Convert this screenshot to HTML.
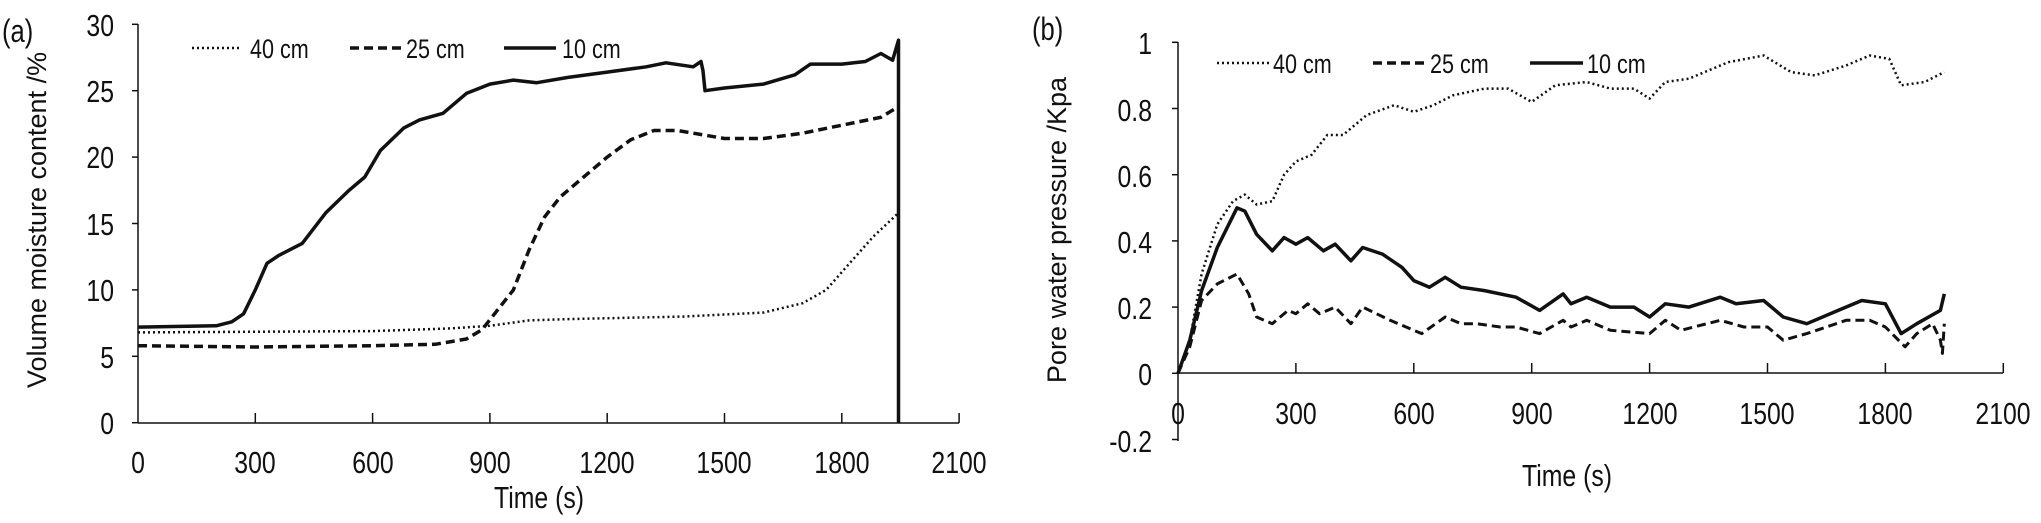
<!DOCTYPE html>
<html><head><meta charset="utf-8"><style>
html,body{margin:0;padding:0;background:#fff;}
svg{display:block;}
text{font-family:"Liberation Sans",sans-serif;fill:#111;}
</style></head><body>
<svg id="s" width="2041" height="523" viewBox="0 0 2041 523" xmlns="http://www.w3.org/2000/svg">
<g id="g"></g>
<g id="nt">
<text x="2" y="42" font-size="32">(a)</text>
<g font-size="31" text-anchor="end">
<text x="114" y="434">0</text><text x="114" y="368">5</text><text x="114" y="301">10</text>
<text x="114" y="235">15</text><text x="114" y="168">20</text><text x="114" y="102">25</text><text x="114" y="36">30</text>
</g>
<g font-size="31" text-anchor="middle">
<text x="138" y="473">0</text><text x="255" y="473">300</text><text x="373" y="473">600</text>
<text x="490" y="473">900</text><text x="607" y="473">1200</text><text x="724" y="473">1500</text>
<text x="842" y="473">1800</text><text x="959" y="473">2100</text>
<text x="539" y="508">Time (s)</text>
</g>
<g font-size="27"><text x="250" y="58">40 cm</text><text x="406" y="58">25 cm</text><text x="562" y="58">10 cm</text></g>
<text x="1032" y="40" font-size="32">(b)</text>
<g font-size="31" text-anchor="end">
<text x="1152" y="452">-0.2</text><text x="1152" y="385">0</text><text x="1152" y="319">0.2</text>
<text x="1152" y="253">0.4</text><text x="1152" y="187">0.6</text><text x="1152" y="121">0.8</text><text x="1152" y="54">1</text>
</g>
<g font-size="31" text-anchor="middle">
<text x="1178" y="424">0</text><text x="1296" y="424">300</text><text x="1414" y="424">600</text>
<text x="1532" y="424">900</text><text x="1650" y="424">1200</text><text x="1767" y="424">1500</text>
<text x="1885" y="424">1800</text><text x="2003" y="424">2100</text>
<text x="1567" y="486">Time (s)</text>
</g>
<g font-size="27"><text x="1273" y="73">40 cm</text><text x="1430" y="73">25 cm</text><text x="1587" y="73">10 cm</text></g>
</g>
<text font-size="27" text-anchor="middle" transform="translate(46,220) rotate(-90)">Volume moisture content /%</text>
<text font-size="27" text-anchor="middle" transform="translate(1066,230) rotate(-90)">Pore water pressure /Kpa</text>
</svg>
<script>
var ts=document.querySelectorAll('#nt text');
ts.forEach(function(t){var x=t.getAttribute('x'),y=t.getAttribute('y');t.setAttribute('transform','translate('+x+','+y+') scale(0.8,1) translate('+(-x)+','+(-y)+')');});
var g=document.getElementById('g'),NS="http://www.w3.org/2000/svg";
function el(t,a){var e=document.createElementNS(NS,t);for(var k in a)e.setAttribute(k,a[k]);g.appendChild(e);return e;}
function line(x1,y1,x2,y2,w,d){el('line',{x1:x1,y1:y1,x2:x2,y2:y2,stroke:'#111','stroke-width':w||1.5,'stroke-dasharray':d||'none'});}
var A={x0:138,sx:117.3/300,y0:422.7,sy:66.4/5};
var B={x0:1178,sx:117.9/300,y0:373.3,sy:66.2/0.2};
function path(P,pts,w,d){var s='';pts.forEach(function(p,i){s+=(i?'L':'M')+(P.x0+p[0]*P.sx).toFixed(1)+','+(P.y0-p[1]*P.sy).toFixed(1);});
el('path',{d:s,fill:'none',stroke:'#111','stroke-width':w,'stroke-dasharray':d,'stroke-linejoin':'round'});}
line(138,24,138,423);line(138,423,959,423);
for(var i=0;i<=6;i++)line(132,24.3+i*66.4,138,24.3+i*66.4);
for(var i=1;i<=7;i++)line(138+i*117.3,423,138+i*117.3,413);
line(1178,42,1178,441);line(1178,373,2003,373);
for(var i=0;i<=6;i++)line(1172,42.3+i*66.2,1178,42.3+i*66.2);
for(var i=1;i<=7;i++)line(1178+i*117.9,373,1178+i*117.9,363);
var DOT='2,3',DASH='9,5';
path(A,[[0,7.2],[200,7.3],[240,7.6],[270,8.2],[300,10],[330,12],[360,12.6],[420,13.5],[480,15.8],[540,17.5],[580,18.5],[620,20.5],[680,22.2],[720,22.8],[780,23.3],[840,24.8],[900,25.5],[960,25.8],[1020,25.6],[1100,26],[1200,26.4],[1300,26.8],[1350,27.1],[1420,26.8],[1440,27.2],[1445,26.5],[1450,25],[1500,25.2],[1600,25.5],[1680,26.2],[1720,27],[1800,27],[1860,27.2],[1900,27.8],[1930,27.3],[1945,28.8],[1945,0]],3.5,'none');
path(A,[[0,5.8],[300,5.7],[600,5.8],[760,5.9],[840,6.3],[880,7],[920,8.5],[960,10],[1000,13],[1040,15.5],[1080,17],[1140,18.5],[1200,20],[1260,21.3],[1320,22],[1380,22],[1440,21.7],[1500,21.4],[1600,21.4],[1700,21.8],[1800,22.4],[1900,23],[1945,23.8]],3.5,DASH);
path(A,[[0,6.8],[600,6.9],[800,7.1],[900,7.3],[1000,7.7],[1100,7.8],[1400,8.0],[1600,8.3],[1700,9],[1760,10],[1820,12],[1880,14],[1945,15.8]],2.5,DOT);
path(B,[[0,0],[30,0.1],[60,0.3],[100,0.45],[140,0.52],[170,0.54],[200,0.51],[240,0.52],[270,0.6],[300,0.64],[340,0.66],[380,0.72],[420,0.72],[480,0.78],[550,0.81],[600,0.79],[650,0.81],[700,0.84],[780,0.86],[840,0.86],[900,0.82],[960,0.87],[1040,0.88],[1100,0.86],[1160,0.86],[1200,0.83],[1240,0.88],[1300,0.89],[1400,0.94],[1490,0.96],[1560,0.91],[1620,0.9],[1700,0.93],[1760,0.96],[1810,0.95],[1840,0.87],[1900,0.88],[1950,0.91]],2.5,DOT);
path(B,[[0,0],[30,0.1],[60,0.25],[100,0.38],[150,0.5],[170,0.49],[200,0.42],[240,0.37],[270,0.41],[300,0.39],[330,0.41],[370,0.37],[400,0.39],[440,0.34],[470,0.38],[520,0.36],[570,0.32],[600,0.28],[640,0.26],[680,0.29],[720,0.26],[780,0.25],[860,0.23],[920,0.19],[980,0.24],[1000,0.21],[1040,0.23],[1100,0.2],[1160,0.2],[1200,0.17],[1240,0.21],[1300,0.2],[1380,0.23],[1420,0.21],[1490,0.22],[1540,0.17],[1600,0.15],[1680,0.19],[1740,0.22],[1800,0.21],[1840,0.12],[1880,0.15],[1940,0.19],[1950,0.24]],3.5,'none');
path(B,[[0,0],[30,0.08],[60,0.22],[100,0.27],[150,0.3],[180,0.24],[200,0.17],[240,0.15],[280,0.19],[300,0.18],[330,0.21],[360,0.18],[400,0.2],[440,0.15],[470,0.2],[540,0.16],[600,0.13],[620,0.12],[680,0.17],[720,0.15],[760,0.15],[820,0.14],[860,0.14],[920,0.12],[980,0.16],[1000,0.14],[1040,0.16],[1100,0.13],[1200,0.12],[1240,0.16],[1280,0.13],[1380,0.16],[1440,0.14],[1500,0.14],[1540,0.1],[1600,0.12],[1700,0.16],[1760,0.16],[1800,0.14],[1850,0.08],[1880,0.12],[1920,0.15],[1940,0.1],[1945,0.06],[1950,0.15]],3,DASH);
line(192,48,241,48,2.5,DOT);line(350,48,404,48,3.5,DASH);line(504,48,556,48,3.5);
line(1217,63,1270,63,2.5,DOT);line(1373,63,1427,63,3.5,DASH);line(1530,63,1583,63,3.5);
</script>
</body></html>
